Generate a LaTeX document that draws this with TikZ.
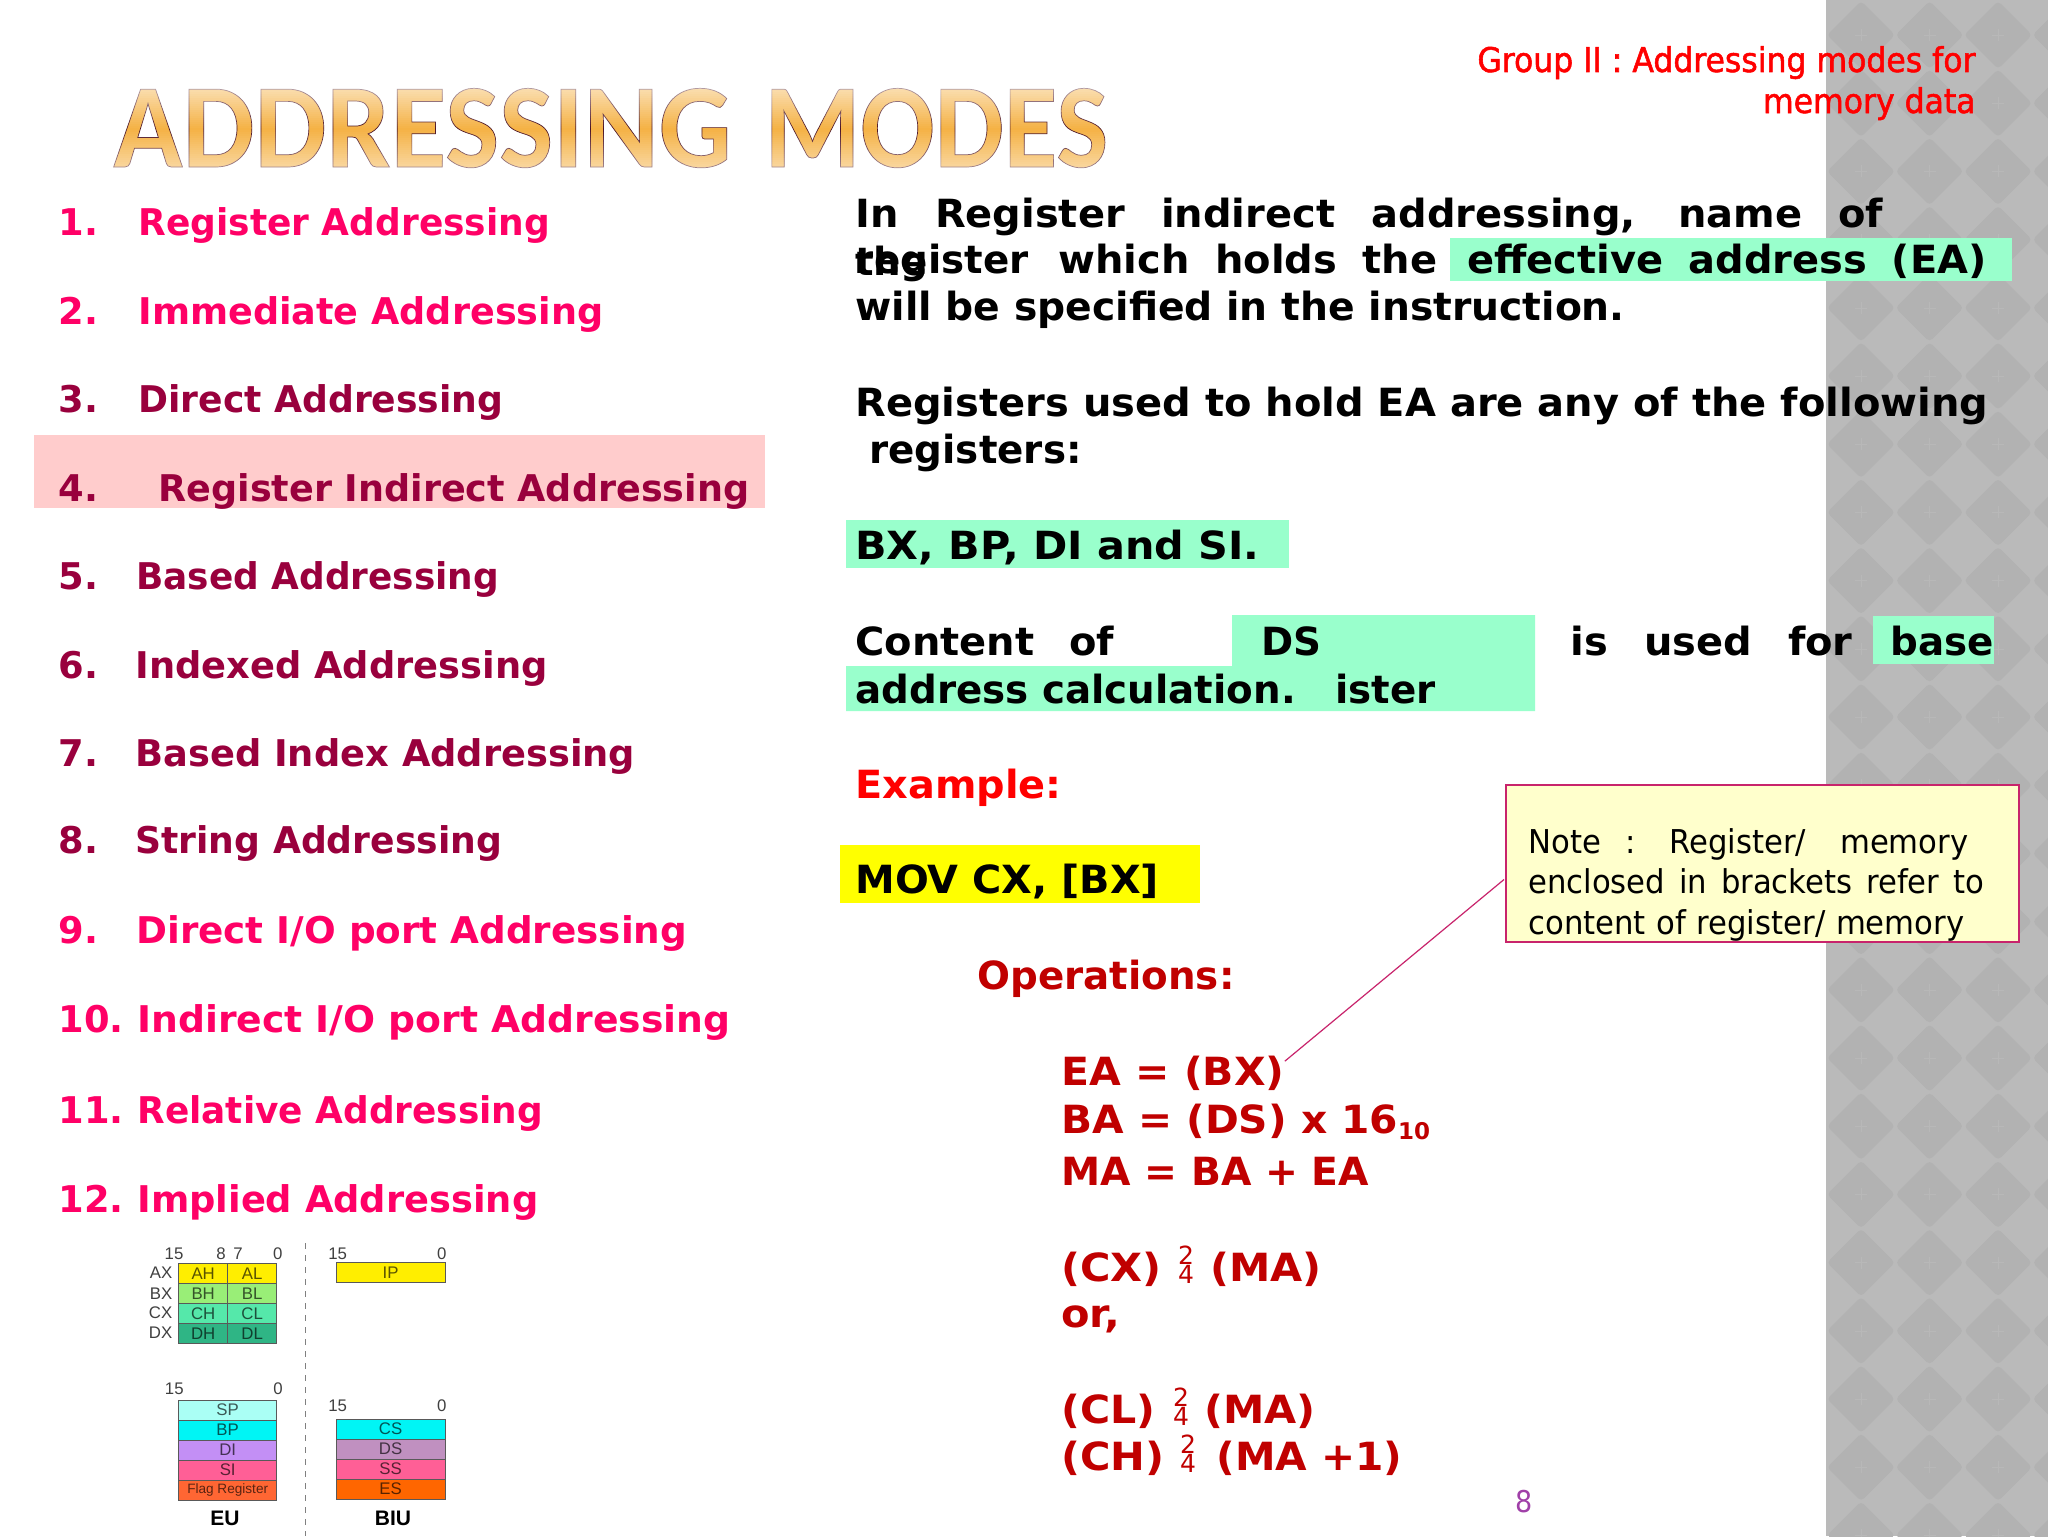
\documentclass[tikz,border=0pt]{standalone}
\usepackage{fontspec}
\usepackage{xcolor}
\usetikzlibrary{positioning}
\setmainfont{DejaVu Sans}
\newfontfamily\notefont{DejaVu Sans Condensed}
\newfontfamily\headfont[FakeBold=1.5]{DejaVu Sans Condensed}
\newfontfamily\regfont{Liberation Sans}
\newfontfamily\titlefont[FakeBold=0.6]{Carlito Bold}
\definecolor{mint}{HTML}{99FFCC}
\definecolor{marker}{HTML}{FFFF00}
\definecolor{crimson}{HTML}{99003D}
\definecolor{hotpink}{HTML}{FF0066}
\definecolor{oprred}{HTML}{C00000}
\definecolor{notefill}{HTML}{FFFFCC}
\definecolor{noteline}{HTML}{C8246C}
\definecolor{pagenum}{HTML}{A040A8}
\definecolor{panel}{HTML}{BABABA}
\definecolor{tile}{HTML}{B2B2B2}
\definecolor{tick}{HTML}{B8B8B8}
\definecolor{axreg}{HTML}{FFEE00}
\definecolor{bxreg}{HTML}{99EE77}
\definecolor{cxreg}{HTML}{55E8AA}
\definecolor{dxreg}{HTML}{2FB585}
\definecolor{spreg}{HTML}{AAFFF5}
\definecolor{bpreg}{HTML}{00F5F5}
\definecolor{direg}{HTML}{C38FF5}
\definecolor{sireg}{HTML}{FF5F96}
\definecolor{flagreg}{HTML}{FF6633}
\definecolor{dsreg}{HTML}{C090C0}
\definecolor{esreg}{HTML}{FF6600}
\newcommand{\fitline}[2]{\makebox[#1][s]{#2}}
\newcommand{\sx}[2]{\scalebox{#1}[1]{#2}}

\begin{document}
\begin{tikzpicture}[
    x=0.5pt, y=-0.5pt,
    body/.style={anchor=base west, inner sep=0pt, font=\fontsize{19.4}{23}\selectfont\bfseries},
    item/.style={anchor=base west, inner sep=0pt, font=\fontsize{18.4}{22}\selectfont\bfseries},
    oper/.style={body, text=oprred},
    small/.style={anchor=base west, inner sep=0pt, font=\fontsize{16.4}{19}\selectfont\notefont},
    bits/.style={anchor=base, inner sep=0pt, font=\fontsize{8.4}{9}\selectfont\regfont, text=black!75},
    side/.style={anchor=east, inner sep=0pt, font=\fontsize{8.4}{9}\selectfont\regfont, text=black!75},
    unit/.style={anchor=base, inner sep=0pt, font=\fontsize{10.5}{12}\selectfont\regfont\bfseries},
    frac/.style={inner sep=0pt, align=center, text=oprred, font=\fontsize{12.5}{9.5}\selectfont},
    half/.style={draw=black!65, line width=0.4pt, outer sep=0pt, inner sep=0pt, minimum width=24.5pt, minimum height=10pt, text opacity=0.65, font=\fontsize{8.4}{9}\selectfont\regfont},
    full/.style={half, minimum width=49pt},
    wide/.style={half, minimum width=54.6pt},
    node distance=0pt
]
    \useasboundingbox (0,0) rectangle (2048,1536);
    \fill[white] (0,0) rectangle (2048,1536);

    % side panel
    \fill[panel] (1826,0) rectangle (2048,1536);
    \begin{scope}
        \clip (1826,0) rectangle (2048,1536);
        \foreach \i in {0,...,3}
            \foreach \j in {-1,...,22} {
                \fill[tile, rounded corners=2pt] ({1861+68.5*\i-34},{35+68.2*\j}) -- ({1861+68.5*\i},{35+68.2*\j-34}) -- ({1861+68.5*\i+34},{35+68.2*\j}) -- ({1861+68.5*\i},{35+68.2*\j+34}) -- cycle;
                \draw[tick, line width=0.3pt] ({1861+68.5*\i-6},{35+68.2*\j}) -- ({1861+68.5*\i+6},{35+68.2*\j}) ({1861+68.5*\i},{35+68.2*\j-6}) -- ({1861+68.5*\i},{35+68.2*\j+6});
            }
    \end{scope}

    % title
    \node[anchor=base west, inner sep=0pt] (title) at (113,167) {\fontsize{60}{70}\selectfont\titlefont\special{pdf:bcolor [0.96 0.70 0.27] [0.30 0.08 0.14]}\sx{0.951}{ADDRESSING}\hspace{16.5pt}\sx{0.915}{MODES}\special{pdf:ecolor}};
    \foreach \k in {0,...,41} {
        \pgfmathsetmacro{\fadeop}{\k<21 ? 0.6*(1-\k/21) : 0.5*(\k-21)/20}
        \fill[white, opacity=\fadeop] (100,{86+2*\k}) rectangle (1115,{88+2*\k});
    }

    % heading
    \node[anchor=base east, inner sep=0pt, text=red, font=\fontsize{17}{20.5}\selectfont\headfont] (group) at (1976,72) {\sx{1.03}{Group II : Addressing modes for}};
    \node[anchor=base east, inner sep=0pt, text=red, font=\fontsize{17}{20.5}\selectfont\headfont] (memdata) at (1976,113) {\sx{1.03}{memory data}};

    % list of modes
    \fill[red!20] (34,435) rectangle (765,508);
    \node[item, text=hotpink] (n1) at (58,235) {1.};
    \node[item, text=hotpink] (m1) at (138,235) {\sx{0.978}{Register Addressing}};
    \node[item, text=hotpink] (n2) at (58,324) {2.};
    \node[item, text=hotpink] (m2) at (138,324) {\sx{0.994}{Immediate Addressing}};
    \node[item, text=crimson] (n3) at (58,412) {3.};
    \node[item, text=crimson] (m3) at (138,412) {\sx{0.982}{Direct Addressing}};
    \node[item, text=crimson] (n4) at (58,501) {4.};
    \node[item, text=crimson] (m4) at (158,501) {\sx{0.993}{Register Indirect Addressing}};
    \node[item, text=crimson] (n5) at (58,589) {5.};
    \node[item, text=crimson] (m5) at (136,589) {\sx{0.975}{Based Addressing}};
    \node[item, text=crimson] (n6) at (58,678) {6.};
    \node[item, text=crimson] (m6) at (135,678) {Indexed Addressing};
    \node[item, text=crimson] (n7) at (58,766) {7.};
    \node[item, text=crimson] (m7) at (135,766) {Based Index Addressing};
    \node[item, text=crimson] (n8) at (58,853) {8.};
    \node[item, text=crimson] (m8) at (135,853) {\sx{0.982}{String Addressing}};
    \node[item, text=hotpink] (n9) at (58,943) {9.};
    \node[item, text=hotpink] (m9) at (136,943) {\sx{1.014}{Direct I/O port Addressing}};
    \node[item, text=hotpink] (n10) at (58,1032) {10.};
    \node[item, text=hotpink] (m10) at (137,1032) {\sx{1.025}{Indirect I/O port Addressing}};
    \node[item, text=hotpink] (n11) at (58,1123) {11.};
    \node[item, text=hotpink] (m11) at (137,1123) {\sx{0.975}{Relative Addressing}};
    \node[item, text=hotpink] (n12) at (58,1212) {12.};
    \node[item, text=hotpink] (m12) at (137,1212) {Implied Addressing};

    % register file
    \node[half, fill=axreg, anchor=north west] (ah) at (178.7,1263.3) {AH};
    \node[half, fill=axreg, right=of ah] (al) {AL};
    \node[half, fill=bxreg, below=of ah] (bh) {BH};
    \node[half, fill=bxreg, below=of al] (bl) {BL};
    \node[half, fill=cxreg, below=of bh] (ch) {CH};
    \node[half, fill=cxreg, below=of bl] (cl) {CL};
    \node[half, fill=dxreg, below=of ch] (dh) {DH};
    \node[half, fill=dxreg, below=of cl] (dl) {DL};
    \node[side] (ax) at (172.7,1273) {AX};
    \node[side] (bx) at (172.7,1294) {BX};
    \node[side] (cx) at (172.7,1313) {CX};
    \node[side] (dx) at (172.7,1333) {DX};
    \node[bits] (b15) at (174,1259.5) {15};
    \node[bits] (b8) at (221,1259.5) {8};
    \node[bits] (b7) at (238,1259.5) {7};
    \node[bits] (b0) at (277.7,1259.5) {0};
    \node[wide, fill=axreg, anchor=north west] (ip) at (336,1262.3) {IP};
    \node[bits] (ip15) at (337.7,1259.5) {15};
    \node[bits] (ip0) at (441.7,1259.5) {0};

    \node[full, fill=spreg, anchor=north west] (sp) at (178.7,1400) {SP};
    \node[full, fill=bpreg, below=of sp] (bp) {BP};
    \node[full, fill=direg, below=of bp] (di) {DI};
    \node[full, fill=sireg, below=of di] (si) {SI};
    \node[full, fill=flagreg, font=\fontsize{6.8}{8}\selectfont\regfont, below=of si] (flag) {Flag Register};
    \node[bits] (eu15) at (174.3,1394) {15};
    \node[bits] (eu0) at (278,1394) {0};
    \node[unit] (eu) at (225,1525) {EU};

    \node[wide, fill=bpreg, anchor=north west] (cs) at (336,1419) {CS};
    \node[wide, fill=dsreg, below=of cs] (ds) {DS};
    \node[wide, fill=sireg, below=of ds] (ss) {SS};
    \node[wide, fill=esreg, below=of ss] (es) {ES};
    \node[bits] (biu15) at (337.7,1411.7) {15};
    \node[bits] (biu0) at (441.7,1411.7) {0};
    \node[unit] (biu) at (393,1525) {BIU};

    \coordinate (splittop) at (305.7,1243);
    \coordinate (splitbot) at (305.7,1536);
    \draw[dashed, black!50, line width=0.5pt] (splittop) -- (splitbot);

    % description
    \fill[mint] (1450,238) rectangle (2012,281);
    \fill[mint] (846,520) rectangle (1289,568);
    \fill[mint] (1232,615) -- (1535,615) -- (1535,711) -- (846,711) -- (846,666) -- (1232,666) -- cycle;
    \fill[mint] (1873,616) rectangle (1994,664);
    \fill[marker] (840,845) rectangle (1200,903);

    \node[body] (l1) at (855,227) {\sx{1.03}{\fitline{499pt}{In  Register  indirect  addressing,  name  of}}};
    \node[body] (the) at (855,275) {the};
    \node[body, anchor=base east] (reg) at (1029,273) {register};
    \node[body] (l2) at (1058,273) {\sx{1.03}{\fitline{184pt}{which holds the}}};
    \node[body] (ea) at (1467,273) {\sx{1.03}{\fitline{252pt}{effective address (EA)}}};
    \node[body] (l3) at (855,320) {\sx{1.012}{will be specified in the instruction.}};
    \node[body] (l4) at (855,416) {\sx{1.031}{Registers used to hold EA are any of the following}};
    \node[body] (l5) at (869,463) {registers:};
    \node[body] (l6) at (855,559) {\sx{1.066}{BX, BP, DI and SI.}};
    \node[body] (l7) at (855,655) {\sx{1.03}{\fitline{125.7pt}{Content of}}};
    \node[body] (dsname) at (1261,655) {DS};
    \node[body] (isuse) at (1570,655) {\sx{1.03}{\fitline{137pt}{is used for}}};
    \node[body] (base) at (1890,655) {base};
    \node[body] (l8) at (855,703) {address calculation.};
    \node[body] (ister) at (1335,703) {ister};
    \node[body, text=red] (example) at (855,798) {\sx{1.026}{Example:}};
    \node[body] (mov) at (855,893) {\sx{1.027}{MOV CX, [BX]}};

    % operations
    \node[oper] (ops) at (977,989) {Operations:};
    \node[oper] (eaform) at (1061,1085) {\sx{1.057}{EA = (BX)}};
    \node[oper] (baform) at (1061,1133) {\sx{1.05}{BA = (DS) x 16}\raisebox{-3pt}{\fontsize{11.5}{12}\selectfont 10}};
    \node[oper] (maform) at (1061,1185) {\sx{1.013}{MA = BA + EA}};
    \node[oper] (cxl) at (1061,1281) {\sx{1.07}{(CX)}};
    \node[frac] (f1) at (1186,1265) {2\\4};
    \node[oper] (cxr) at (1210,1281) {\sx{1.07}{(MA)}};
    \node[oper] (orw) at (1061,1327) {\sx{1.07}{or,}};
    \node[oper] (cll) at (1061,1423) {\sx{1.06}{(CL)}};
    \node[frac] (f2) at (1181,1407) {2\\4};
    \node[oper] (clr) at (1204,1423) {\sx{1.07}{(MA)}};
    \node[oper] (chl) at (1061,1470) {\sx{1.07}{(CH)}};
    \node[frac] (f3) at (1188,1454) {2\\4};
    \node[oper] (chr) at (1216,1470) {\sx{1.05}{(MA +1)}};

    % note
    \node[draw=noteline, fill=notefill, line width=0.7pt, inner sep=0pt, outer sep=0pt, minimum width=256.5pt, minimum height=78.5pt, anchor=north west] (note) at (1506,785) {};
    \node[small] (nt1) at (1528,853) {\sx{1.04}{\fitline{211.5pt}{Note\hspace{7pt} :\hfill Register/\hfill memory}}};
    \node[small] (nt2) at (1528,893) {\sx{1.04}{\fitline{219pt}{enclosed in brackets refer to}}};
    \node[small] (nt3) at (1528,934) {\sx{1.04}{\fitline{209.5pt}{content of register/ memory}}};
    \draw[noteline, line width=0.6pt] ([xshift=-1pt,yshift=-8pt]note.west) -- ([yshift=-3pt]eaform.north east);

    \node[anchor=base, inner sep=0pt, text=pagenum, font=\fontsize{15}{18}\selectfont\notefont] (page) at (1524,1512) {8};
\end{tikzpicture}
\end{document}
